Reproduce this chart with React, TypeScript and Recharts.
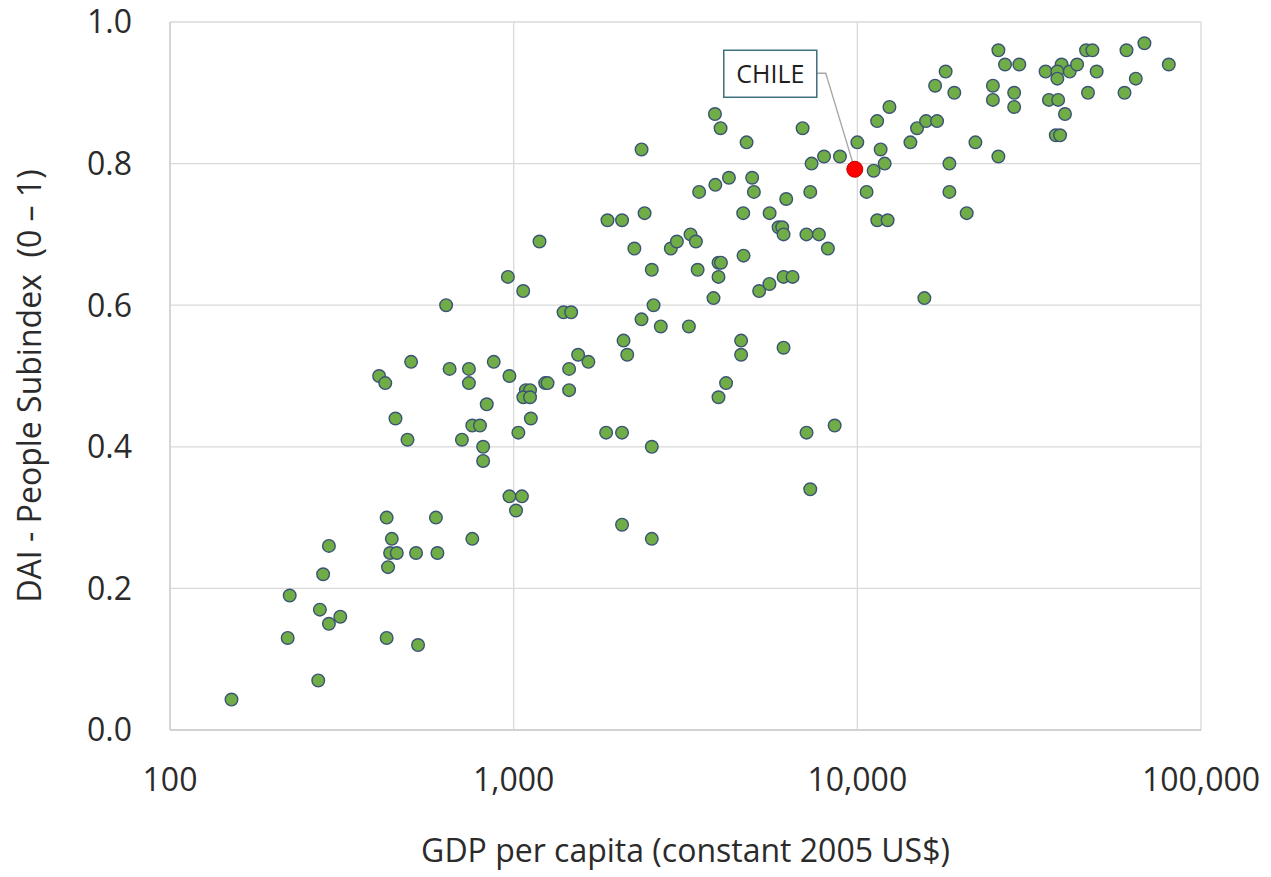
import { ScatterChart, Scatter, XAxis, YAxis, CartesianGrid, Label } from "recharts";

// GDP per capita (constant 2005 US$) and DAI - People Subindex
const GDP = [
  636, 503, 406, 423, 651, 741, 741, 875, 835, 453, 758, 798, 491, 707, 815, 815,
  427, 594, 442, 437, 457, 431, 290, 279, 520, 600, 758, 223, 273, 290, 313, 220,
  427, 527, 270, 151,
  2356, 4761, 7360, 8000, 8900, 10000, 3465, 3862, 4230, 4943, 5000, 6210, 7295,
  1875, 2067, 2404, 4655, 5555, 5900, 6045, 6100, 7110, 7730, 8210, 1189, 2245,
  2866, 2985, 3270, 3390, 2523, 3430, 3945, 4010, 3945, 4665, 3815, 5180, 5550,
  6100, 6480, 962, 1066, 1397, 1470, 2553, 2355, 2680, 3235, 2088, 2140, 4590,
  4590, 6100, 1540, 1650, 1450, 972, 1235, 1255, 1450, 1085, 1116, 1067, 1116,
  4150, 3945, 1122, 1032, 1858, 2067, 2523, 7115, 8590, 972, 1057, 1016, 2067,
  2523, 7295, 3852, 4000, 6930,
  25730, 68450, 46300, 48300, 60700, 26900, 29600, 80600, 35300, 39300, 38200,
  41500, 43600, 38200, 49700, 64600, 18070, 16840, 19150, 24800, 24800, 28600,
  28600, 36100, 38400, 46900, 59900, 40200, 37800, 38900, 12400, 11420, 11690,
  12010, 11155, 10640, 11430, 12250, 14270, 14920, 15850, 17060, 22060, 25730,
  18530, 18530, 20810, 15670,
];
const DAI = [
  0.6, 0.52, 0.5, 0.49, 0.51, 0.51, 0.49, 0.52, 0.46, 0.44, 0.43, 0.43, 0.41, 0.41, 0.4, 0.38,
  0.3, 0.3, 0.27, 0.25, 0.25, 0.23, 0.26, 0.22, 0.25, 0.25, 0.27, 0.19, 0.17, 0.15, 0.16, 0.13,
  0.13, 0.12, 0.07, 0.043,
  0.82, 0.83, 0.8, 0.81, 0.81, 0.83, 0.76, 0.77, 0.78, 0.78, 0.76, 0.75, 0.76,
  0.72, 0.72, 0.73, 0.73, 0.73, 0.71, 0.71, 0.7, 0.7, 0.7, 0.68, 0.69, 0.68,
  0.68, 0.69, 0.7, 0.69, 0.65, 0.65, 0.66, 0.66, 0.64, 0.67, 0.61, 0.62, 0.63,
  0.64, 0.64, 0.64, 0.62, 0.59, 0.59, 0.6, 0.58, 0.57, 0.57, 0.55, 0.53, 0.55,
  0.53, 0.54, 0.53, 0.52, 0.51, 0.5, 0.49, 0.49, 0.48, 0.48, 0.48, 0.47, 0.47,
  0.49, 0.47, 0.44, 0.42, 0.42, 0.42, 0.4, 0.42, 0.43, 0.33, 0.33, 0.31, 0.29,
  0.27, 0.34, 0.87, 0.85, 0.85,
  0.96, 0.97, 0.96, 0.96, 0.96, 0.94, 0.94, 0.94, 0.93, 0.94, 0.93,
  0.93, 0.94, 0.92, 0.93, 0.92, 0.93, 0.91, 0.9, 0.91, 0.89, 0.9,
  0.88, 0.89, 0.89, 0.9, 0.9, 0.87, 0.84, 0.84, 0.88, 0.86, 0.82,
  0.8, 0.79, 0.76, 0.72, 0.72, 0.83, 0.85, 0.86, 0.86, 0.83, 0.81,
  0.8, 0.76, 0.73, 0.61,
];
const CHILE_GDP = [9830];
const CHILE_DAI = [0.792];

const X_TICKS = [100, 1000, 10000, 100000];
const Y_TICKS = [0, 0.2, 0.4, 0.6, 0.8, 1.0];

const FONT = "'Open Sans', 'Liberation Sans', sans-serif";
const TXT = "#2b2b2b";
const GRID = "#d9d9d9";

const countries = GDP.map((g, i) => ({ gdp: g, dai: DAI[i] }));
const chile = CHILE_GDP.map((g, i) => ({ gdp: g, dai: CHILE_DAI[i] }));

const tickStyle = { fill: TXT, fontSize: 32, fontFamily: FONT };

function Dot({ cx, cy }: any) {
  return <circle cx={cx} cy={cy} r={6.3} fill="#70ad47" stroke="#3b5375" strokeWidth={1.4} />;
}

// red point plus its callout box and leader line
function ChileDot({ cx, cy }: any) {
  return (
    <g>
      <polyline
        points={`${cx - 38},${cy - 96} ${cx - 29},${cy - 96} ${cx},${cy}`}
        fill="none"
        stroke="#a6a6a6"
        strokeWidth={1.3}
      />
      <rect x={cx - 131} y={cy - 119} width={93} height={47} fill="#fff" stroke="#3e6f7d" strokeWidth={1.5} />
      <text x={cx - 84.5} y={cy - 86} textAnchor="middle" fontSize={25} fontFamily={FONT} fill="#1f1f1f">
        CHILE
      </text>
      <circle cx={cx} cy={cy} r={8} fill="#ff0000" stroke="#c00000" strokeWidth={1} />
    </g>
  );
}

export default function App() {
  return (
    <div style={{ position: "absolute", left: 0, top: 0, width: 1271, height: 877, background: "#fff" }}>
      <ScatterChart width={1271} height={877} margin={{ top: 22, right: 70, left: 0, bottom: 0 }}>
        <CartesianGrid stroke={GRID} strokeWidth={1.3} />
        <XAxis
          type="number"
          dataKey="gdp"
          scale="log"
          domain={[100, 100000]}
          ticks={X_TICKS}
          allowDataOverflow
          height={147}
          tick={tickStyle}
          tickLine={false}
          tickSize={0}
          tickMargin={38}
          axisLine={{ stroke: "#cccccc", strokeWidth: 1.3 }}
          tickFormatter={(v: number) => v.toLocaleString("en-US")}
        >
          <Label
            value="GDP per capita (constant 2005 US$)"
            position="insideBottom"
            offset={15}
            style={{ fill: TXT, fontSize: 32, fontFamily: FONT }}
          />
        </XAxis>
        <YAxis
          type="number"
          dataKey="dai"
          domain={[0, 1]}
          ticks={Y_TICKS}
          width={170}
          tick={tickStyle}
          tickLine={false}
          tickSize={0}
          tickMargin={38}
          axisLine={{ stroke: "#cccccc", strokeWidth: 1.3 }}
          tickFormatter={(v: number) => v.toFixed(1)}
        >
          <Label
            content={() => (
              <text
                x={41}
                y={386}
                transform="rotate(-90, 41, 386)"
                textAnchor="middle"
                fontSize={32}
                fontFamily={FONT}
                fill={TXT}
                style={{ whiteSpace: "pre" }}
              >
                {"DAI - People Subindex  (0 \u2013 1)"}
              </text>
            )}
          />
        </YAxis>
        <Scatter data={countries} shape={<Dot />} isAnimationActive={false} />
        <Scatter data={chile} shape={<ChileDot />} isAnimationActive={false} />
      </ScatterChart>
    </div>
  );
}
